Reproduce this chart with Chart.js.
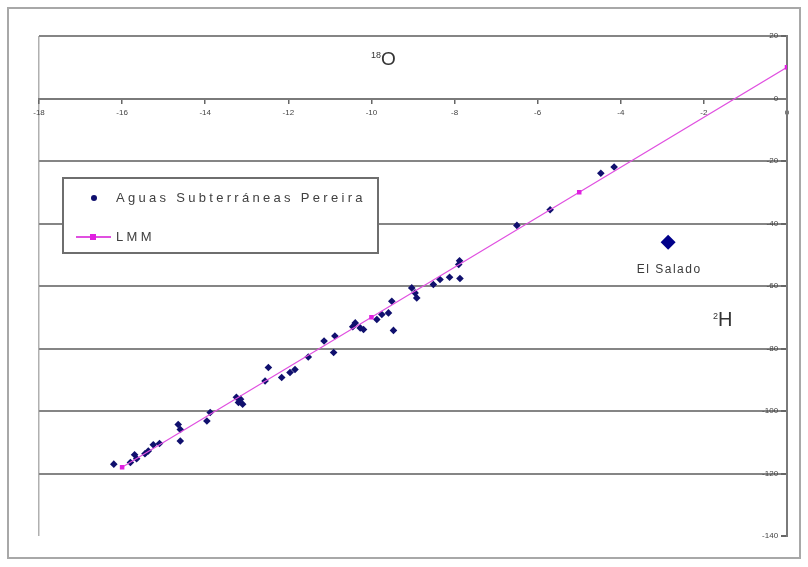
<!DOCTYPE html>
<html>
<head>
<meta charset="utf-8">
<script src="https://cdn.jsdelivr.net/npm/chart.js@4"></script>
<style>
html,body{margin:0;padding:0;background:#fff;}
#wrap{position:relative;width:808px;height:567px;overflow:hidden;font-family:"Liberation Sans",Arial,sans-serif;}
#frame{position:absolute;left:7px;top:7px;width:794px;height:552px;border:2px solid #a8a8a8;box-sizing:border-box;pointer-events:none;}
canvas{position:absolute;left:0;top:0;}
.lbl{position:absolute;color:#333;white-space:nowrap;}
#legend{position:absolute;left:62px;top:177px;width:317px;height:77px;border:2px solid #6e6e6e;box-sizing:border-box;background:#fff;}
.row{position:absolute;left:0;height:16px;width:100%;}
.row span.t{position:absolute;left:52px;top:0;font-size:13px;line-height:16px;letter-spacing:3.3px;color:#404040;}
.dot{position:absolute;left:27px;top:5px;width:6px;height:6px;border-radius:50%;background:#10106e;}
.lline{position:absolute;left:12px;top:7px;width:35px;height:1.5px;background:#e050e0;}
.lsq{position:absolute;left:26px;top:5px;width:6px;height:6px;background:#e020e0;}
</style>
</head>
<body>
<div id="wrap">
<canvas id="c" width="808" height="567"></canvas>
<div id="frame"></div>
<div class="lbl" style="left:371px;top:44px;font-size:19px;line-height:22px;color:#333;"><span style="font-size:9px;vertical-align:7px;">18</span>O</div>
<div class="lbl" style="left:713px;top:305px;font-size:20px;line-height:22px;color:#333;"><span style="font-size:9px;vertical-align:7px;">2</span>H</div>
<div id="legend">
  <div class="row" style="top:11px;"><div class="dot"></div><span class="t" id="lg0"></span></div>
  <div class="row" style="top:50px;"><div class="lline"></div><div class="lsq"></div><span class="t" id="lg1"></span></div>
</div>
</div>
<script>
// ---- data ----
const seriesNames = ["Aguas Subterráneas Pereira", "LMM"];
const saladoName = "El Salado";

// groundwater samples (δ18O, δ2H)
const o18 = [-16.2, -15.8, -15.7, -15.65, -15.45, -15.37, -15.25, -15.1,
  -14.65, -14.6, -14.6, -13.96, -13.88, -13.2, -13.15, -13.1, -13.25,
  -12.56, -12.48, -12.16, -11.96, -11.84, -11.52, -11.14, -10.88, -10.91,
  -10.39, -10.27, -10.19, -10.45, -9.87, -9.75, -9.59, -9.51, -9.47,
  -9.03, -8.95, -8.91, -8.51, -8.35, -8.12, -7.87, -7.88, -7.9,
  -6.5, -5.7, -4.48, -4.16];
const h2 = [-117, -116.5, -114, -115.3, -113.7, -112.8, -110.8, -110.4,
  -104.3, -105.9, -109.6, -103.2, -100.5, -97.3, -96.2, -97.8, -95.6,
  -90.4, -86.1, -89.3, -87.7, -86.7, -82.7, -77.6, -76, -81.3,
  -71.8, -73.4, -73.9, -73, -70.7, -69.1, -68.6, -64.9, -74.2,
  -60.6, -62.2, -63.8, -59.5, -57.9, -57.2, -57.6, -51.9, -53.1,
  -40.6, -35.6, -23.9, -21.9];

// local meteoric water line
const lmmO18 = [-16, -10, -5, 0];
const lmmH2 = [-118, -70, -30, 10];

// El Salado
const saladoO18 = [-2.86];
const saladoH2 = [-46];

// axes
const xMin = -18, xMax = 0, xStep = 2;
const yMin = -140, yMax = 20, yStep = 20;

// ---- chart ----
document.getElementById('lg0').textContent = seriesNames[0];
document.getElementById('lg1').textContent = seriesNames[1];

const toPts = (xs, ys) => xs.map((x, i) => ({x: x, y: ys[i]}));

const saladoLabel = {
  id: 'saladoLabel',
  afterDatasetsDraw(chart) {
    const el = chart.getDatasetMeta(1).data[0];
    if (!el) return;
    const ctx = chart.ctx;
    ctx.save();
    ctx.font = '12px "Liberation Sans", Arial, sans-serif';
    ctx.fillStyle = '#3a3a3a';
    ctx.textAlign = 'center';
    ctx.textBaseline = 'middle';
    if ('letterSpacing' in ctx) ctx.letterSpacing = '1.5px';
    ctx.fillText(saladoName, el.x + 1, el.y + 27);
    ctx.restore();
  }
};

const tickFont = {family: '"Liberation Sans", Arial, sans-serif', size: 8};

new Chart(document.getElementById('c'), {
  type: 'scatter',
  data: {
    datasets: [
      {
        label: seriesNames[0],
        data: toPts(o18, h2),
        pointStyle: 'rectRot',
        pointRadius: 3.8,
        backgroundColor: '#10106e',
        borderColor: '#10106e',
        borderWidth: 0,
        order: 2
      },
      {
        label: saladoName,
        data: toPts(saladoO18, saladoH2),
        pointStyle: 'rectRot',
        pointRadius: 7.5,
        backgroundColor: '#00008a',
        borderColor: '#00008a',
        borderWidth: 0,
        order: 1
      },
      {
        label: seriesNames[1],
        data: toPts(lmmO18, lmmH2),
        showLine: true,
        borderColor: '#e050e0',
        borderWidth: 1.2,
        pointStyle: 'rect',
        pointRadius: 3.2,
        backgroundColor: '#e020e0',
        pointBorderWidth: 0,
        order: 0
      }
    ]
  },
  options: {
    responsive: false,
    animation: false,
    devicePixelRatio: 1,
    layout: {padding: {left: 39, right: 21, top: 36, bottom: 31}},
    plugins: {legend: {display: false}, tooltip: {enabled: false}},
    scales: {
      x: {
        type: 'linear',
        min: xMin, max: xMax,
        position: {y: 0},
        ticks: {stepSize: xStep, font: tickFont, color: '#444', padding: 5},
        grid: {
          color: (c) => (c.tick && c.tick.value === xMin) ? '#b0b0b0' : 'rgba(0,0,0,0)',
          lineWidth: 1.5,
          tickColor: '#666',
          tickLength: 4
        },
        border: {display: true, color: '#7a7a7a', width: 2}
      },
      y: {
        type: 'linear',
        min: yMin, max: yMax,
        position: {x: 0},
        ticks: {
          stepSize: yStep, font: tickFont, color: '#444',
          callback: (v) => String(v) + '    '
        },
        grid: {
          color: (c) => (c.tick && c.tick.value === yMin) ? 'rgba(0,0,0,0)' : '#858585',
          lineWidth: 2,
          tickColor: '#666',
          tickLength: 5
        },
        border: {display: true, color: '#7a7a7a', width: 2}
      }
    }
  },
  plugins: [saladoLabel]
});
</script>
</body>
</html>
